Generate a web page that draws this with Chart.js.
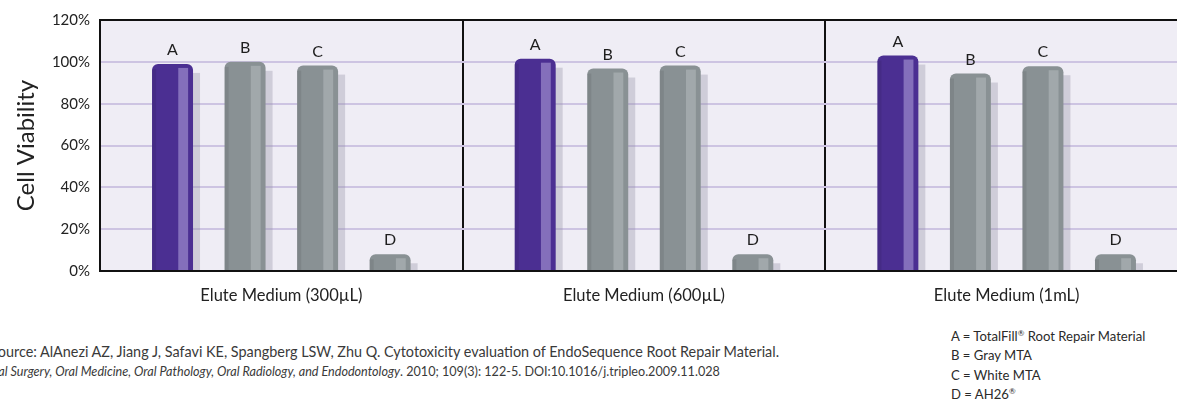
<!DOCTYPE html>
<html>
<head>
<meta charset="utf-8">
<script src="https://cdn.jsdelivr.net/npm/chart.js@4"></script>
<style>
  html, body { margin: 0; padding: 0; background: #fff; overflow: hidden; width: 1177px; height: 402px; }
  body { position: relative; font-family: Lato, "Open Sans", sans-serif; color: #333; }
  #wrap { position: absolute; left: 0; top: 0; width: 1190px; height: 310px; }
  .src { position: absolute; white-space: nowrap; color: #3a3a3a; }
  .key { position: absolute; left: 951px; font-size: 13.1px; white-space: nowrap; color: #2a2a2a; }
  sup { font-size: 8px; }
</style>
</head>
<body>
<div id="wrap"><canvas id="chart"></canvas></div>

<div class="src" style="left:-10px; top:343px; font-size:14.4px;">Source: AlAnezi AZ, Jiang J, Safavi KE, Spangberg LSW, Zhu Q. Cytotoxicity evaluation of EndoSequence Root Repair Material.</div>
<div class="src" style="left:-15px; top:364px; font-size:12.6px;"><i>Oral Surgery, Oral Medicine, Oral Pathology, Oral Radiology, and Endodontology</i>. 2010; 109(3): 122-5. DOI:10.1016/j.tripleo.2009.11.028</div>

<div class="key" style="top:328px;">A = TotalFill<sup>®</sup> Root Repair Material</div>
<div class="key" style="top:347px;">B = Gray MTA</div>
<div class="key" style="top:367px;">C = White MTA</div>
<div class="key" style="top:386px;">D = AH26<sup>®</sup></div>

<script>
const categories = ['Elute Medium (300µL)', 'Elute Medium (600µL)', 'Elute Medium (1mL)']
const seriesLabels = ['A', 'B', 'C', 'D']
const aValues = [99, 101.5, 103]
const bValues = [100, 96.8, 94.4]
const cValues = [98.2, 98.2, 97.9]
const dValues = [8, 8, 8]
const yTicks = [0, 20, 40, 60, 80, 100, 120]

const purple = '#4b2f92'
const gray = '#899194'
const fonts = 'Lato, "Open Sans", sans-serif'

// plot background
const bgPlugin = {
    id: 'plotBg',
    beforeDraw(chart) {
        const { ctx, chartArea: a } = chart
        ctx.save()
        ctx.fillStyle = '#efedf5'
        ctx.fillRect(a.left, a.top, a.right - a.left, a.bottom - a.top)
        ctx.restore()
    }
}

// drop shadow to the right of every bar
const shadowPlugin = {
    id: 'barShadow',
    beforeDatasetsDraw(chart) {
        const ctx = chart.ctx
        ctx.save()
        ctx.fillStyle = 'rgba(150,145,165,0.35)'
        chart.data.datasets.forEach((ds, i) => {
            chart.getDatasetMeta(i).data.forEach(bar => {
                const p = bar.getProps(['x', 'y', 'base', 'width'], true)
                ctx.fillRect(p.x - p.width / 2 + 7, p.y + 9, p.width, p.base - p.y - 9)
            })
        })
        ctx.restore()
    }
}

// light highlight strip + letter labels
const glossPlugin = {
    id: 'barGloss',
    afterDatasetsDraw(chart) {
        const ctx = chart.ctx
        ctx.save()
        chart.data.datasets.forEach((ds, i) => {
            const strip = i === 0 ? 'rgba(170,155,215,0.6)' : 'rgba(190,198,200,0.45)'
            chart.getDatasetMeta(i).data.forEach(bar => {
                const p = bar.getProps(['x', 'y', 'base', 'width'], true)
                const left = p.x - p.width / 2
                ctx.fillStyle = strip
                ctx.fillRect(left + p.width * 0.64, p.y + 4, p.width * 0.24, p.base - p.y - 4)
                ctx.fillStyle = 'rgba(0,0,0,0.08)'
                ctx.fillRect(left, p.y + 5, p.width * 0.1, p.base - p.y - 5)
                ctx.fillStyle = '#1e1e1e'
                ctx.font = '16px ' + fonts
                ctx.textAlign = 'center'
                ctx.textBaseline = 'bottom'
                ctx.fillText(ds.label, p.x, p.y - 6)
            })
        })
        ctx.restore()
    }
}

const makeSet = (label, values, color) => ({
    label: label,
    data: values,
    backgroundColor: color,
    borderWidth: 0,
    borderRadius: { topLeft: 6, topRight: 6, bottomLeft: 0, bottomRight: 0 },
    borderSkipped: 'bottom',
    categoryPercentage: 0.8,
    barPercentage: 0.565
})

new Chart(document.getElementById('chart'), {
    type: 'bar',
    data: {
        labels: categories,
        datasets: [
            makeSet(seriesLabels[0], aValues, purple),
            makeSet(seriesLabels[1], bValues, gray),
            makeSet(seriesLabels[2], cValues, gray),
            makeSet(seriesLabels[3], dValues, gray)
        ]
    },
    options: {
        responsive: true,
        maintainAspectRatio: false,
        animation: false,
        layout: { padding: { top: 20, right: 2, left: 0, bottom: 0 } },
        plugins: { legend: { display: false }, tooltip: { enabled: false } },
        scales: {
            x: {
                grid: { offset: true, color: '#111', lineWidth: 2, drawTicks: false },
                border: { color: '#111', width: 2 },
                ticks: { padding: 15, color: '#222', font: { family: fonts, size: 16.5 } },
                afterFit(scale) { scale.height = 39 }
            },
            y: {
                min: 0,
                max: 120,
                afterBuildTicks(scale) { scale.ticks = yTicks.map(v => ({ value: v })) },
                grid: {
                    drawTicks: false,
                    lineWidth: 2,
                    color: c => c.tick && c.tick.value === 120 ? '#111' : '#cdc4e2'
                },
                border: { color: '#111', width: 2 },
                ticks: {
                    padding: 10,
                    color: '#222',
                    font: { family: fonts, size: 15 },
                    callback: v => v + '%'
                },
                title: {
                    display: true,
                    text: 'Cell Viability',
                    color: '#222',
                    font: { family: fonts, size: 24 },
                    padding: { top: 12, bottom: 0 }
                },
                afterFit(scale) { scale.width = 100 }
            }
        }
    },
    plugins: [bgPlugin, shadowPlugin, glossPlugin]
})
</script>
</body>
</html>
